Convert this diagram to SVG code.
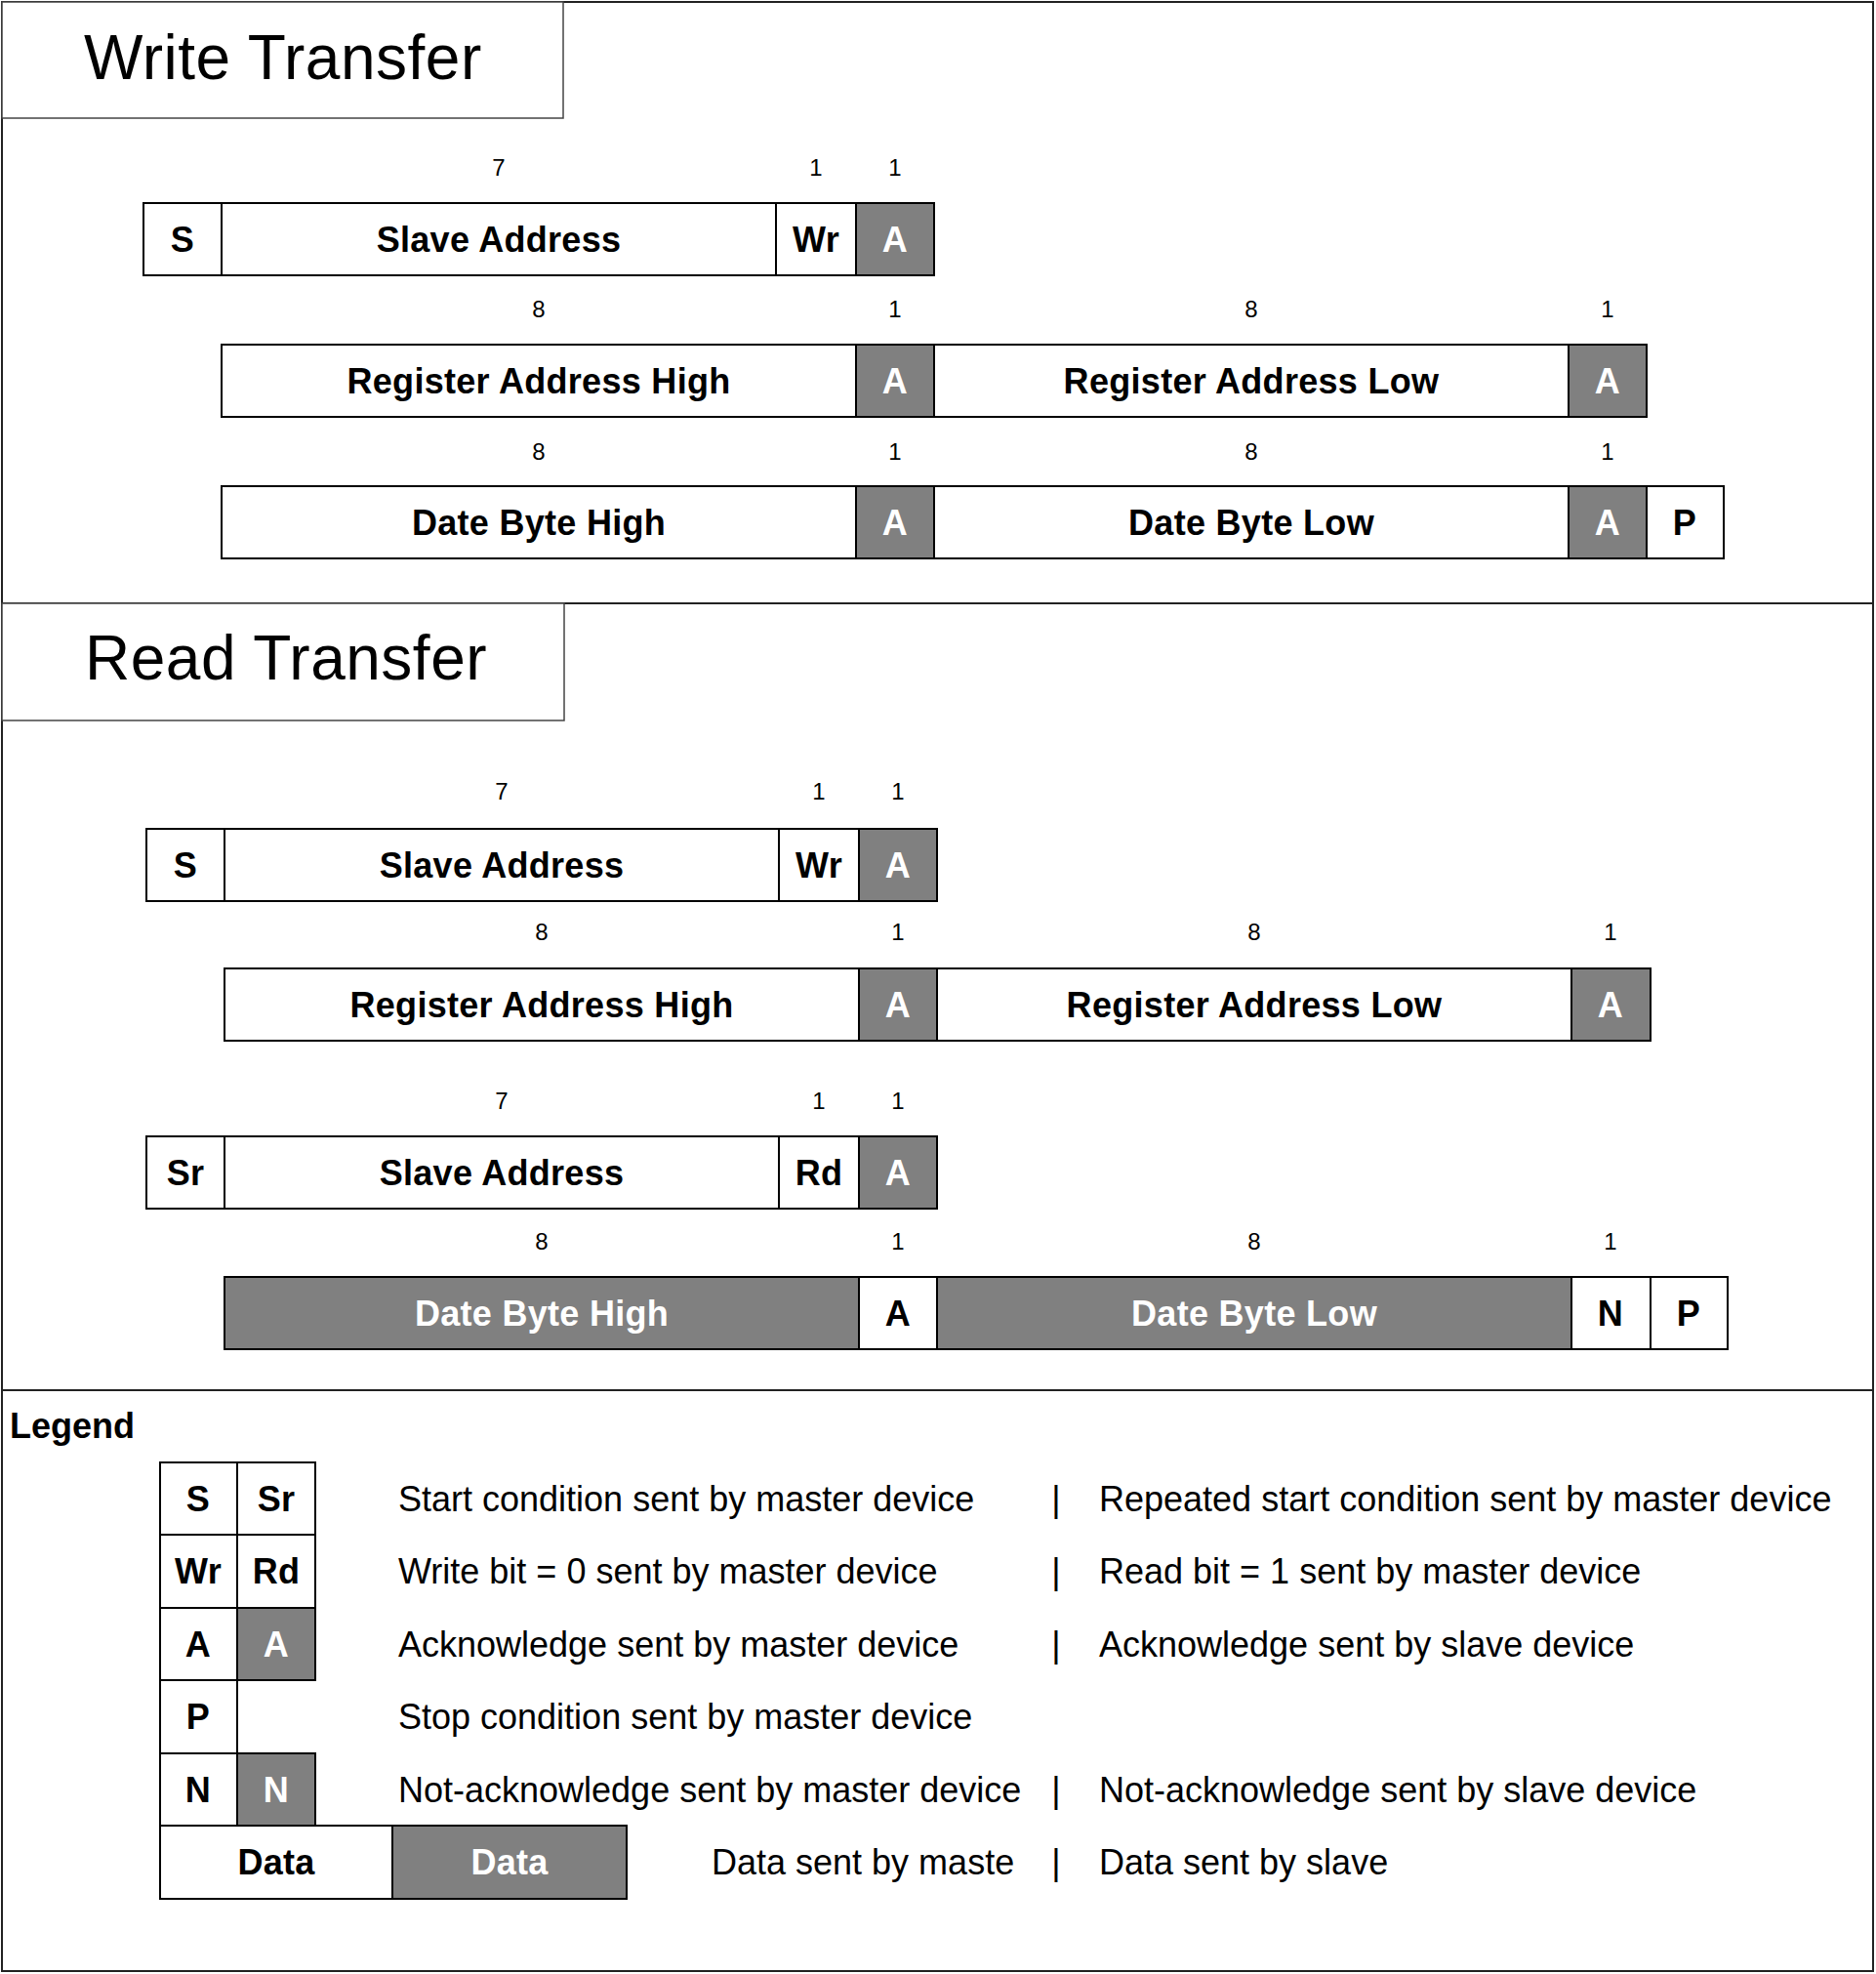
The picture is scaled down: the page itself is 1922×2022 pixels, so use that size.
<svg xmlns="http://www.w3.org/2000/svg" width="1922" height="2022" viewBox="0 0 1922 2022">
<style>
  .frame{fill:none;stroke:#222;stroke-width:2}
  .tbox{fill:#fff;stroke:#444;stroke-width:1.5}
  .c{fill:#fff;stroke:#000;stroke-width:2}
  .g{fill:#808080;stroke:#000;stroke-width:2}
  text{font-family:"Liberation Sans",Arial,Helvetica,sans-serif}
  .t{font-size:64px;fill:#000;letter-spacing:0.5px}
  .l{font-size:36px;font-weight:bold;text-anchor:middle;fill:#000;letter-spacing:0.3px}
  .lw{font-size:36px;font-weight:bold;text-anchor:middle;fill:#fff;letter-spacing:0.3px}
  .n{font-size:24px;text-anchor:middle;fill:#000}
  .lg{font-size:36px;font-weight:bold;fill:#000}
  .d{font-size:36px;fill:#000}
  .p{font-size:36px;fill:#000;text-anchor:middle}
</style>
<rect class="frame" x="2" y="2" width="1917" height="2017"/>
<line class="frame" x1="2" y1="618" x2="1919" y2="618"/>
<line class="frame" x1="2" y1="1424" x2="1919" y2="1424"/>

<g id="write-title"><rect class="tbox" x="2" y="2" width="575" height="119"/><text class="t" x="86" y="81">Write Transfer</text></g>

<g id="write-row1">
  <text class="n" x="511" y="180">7</text><text class="n" x="836" y="180">1</text><text class="n" x="917" y="180">1</text>
  <g id="w1-s"><rect class="c" x="147" y="208" width="80" height="74"/><text class="l" x="187" y="258">S</text></g>
  <g id="w1-addr"><rect class="c" x="227" y="208" width="568" height="74"/><text class="l" x="511" y="258">Slave Address</text></g>
  <g id="w1-wr"><rect class="c" x="795" y="208" width="82" height="74"/><text class="l" x="836" y="258">Wr</text></g>
  <g id="w1-a"><rect class="g" x="877" y="208" width="80" height="74"/><text class="lw" x="917" y="258">A</text></g>
</g>

<g id="write-row2">
  <text class="n" x="552" y="325">8</text><text class="n" x="917" y="325">1</text><text class="n" x="1282" y="325">8</text><text class="n" x="1647" y="325">1</text>
  <g id="w2-rah"><rect class="c" x="227" y="353" width="650" height="74"/><text class="l" x="552" y="403">Register Address High</text></g>
  <g id="w2-a1"><rect class="g" x="877" y="353" width="80" height="74"/><text class="lw" x="917" y="403">A</text></g>
  <g id="w2-ral"><rect class="c" x="957" y="353" width="650" height="74"/><text class="l" x="1282" y="403">Register Address Low</text></g>
  <g id="w2-a2"><rect class="g" x="1607" y="353" width="80" height="74"/><text class="lw" x="1647" y="403">A</text></g>
</g>

<g id="write-row3">
  <text class="n" x="552" y="471">8</text><text class="n" x="917" y="471">1</text><text class="n" x="1282" y="471">8</text><text class="n" x="1647" y="471">1</text>
  <g id="w3-dbh"><rect class="c" x="227" y="498" width="650" height="74"/><text class="l" x="552" y="548">Date Byte High</text></g>
  <g id="w3-a1"><rect class="g" x="877" y="498" width="80" height="74"/><text class="lw" x="917" y="548">A</text></g>
  <g id="w3-dbl"><rect class="c" x="957" y="498" width="650" height="74"/><text class="l" x="1282" y="548">Date Byte Low</text></g>
  <g id="w3-a2"><rect class="g" x="1607" y="498" width="80" height="74"/><text class="lw" x="1647" y="548">A</text></g>
  <g id="w3-p"><rect class="c" x="1687" y="498" width="79" height="74"/><text class="l" x="1726" y="548">P</text></g>
</g>

<g id="read-title"><rect class="tbox" x="2" y="618" width="576" height="120"/><text class="t" x="87" y="696">Read Transfer</text></g>

<g id="read-row1">
  <text class="n" x="514" y="819">7</text><text class="n" x="839" y="819">1</text><text class="n" x="920" y="819">1</text>
  <g id="r1-s"><rect class="c" x="150" y="849" width="80" height="74"/><text class="l" x="190" y="899">S</text></g>
  <g id="r1-addr"><rect class="c" x="230" y="849" width="568" height="74"/><text class="l" x="514" y="899">Slave Address</text></g>
  <g id="r1-wr"><rect class="c" x="798" y="849" width="82" height="74"/><text class="l" x="839" y="899">Wr</text></g>
  <g id="r1-a"><rect class="g" x="880" y="849" width="80" height="74"/><text class="lw" x="920" y="899">A</text></g>
</g>

<g id="read-row2">
  <text class="n" x="555" y="963">8</text><text class="n" x="920" y="963">1</text><text class="n" x="1285" y="963">8</text><text class="n" x="1650" y="963">1</text>
  <g id="r2-rah"><rect class="c" x="230" y="992" width="650" height="74"/><text class="l" x="555" y="1042">Register Address High</text></g>
  <g id="r2-a1"><rect class="g" x="880" y="992" width="80" height="74"/><text class="lw" x="920" y="1042">A</text></g>
  <g id="r2-ral"><rect class="c" x="960" y="992" width="650" height="74"/><text class="l" x="1285" y="1042">Register Address Low</text></g>
  <g id="r2-a2"><rect class="g" x="1610" y="992" width="81" height="74"/><text class="lw" x="1650" y="1042">A</text></g>
</g>

<g id="read-row3">
  <text class="n" x="514" y="1136">7</text><text class="n" x="839" y="1136">1</text><text class="n" x="920" y="1136">1</text>
  <g id="r3-sr"><rect class="c" x="150" y="1164" width="80" height="74"/><text class="l" x="190" y="1214">Sr</text></g>
  <g id="r3-addr"><rect class="c" x="230" y="1164" width="568" height="74"/><text class="l" x="514" y="1214">Slave Address</text></g>
  <g id="r3-rd"><rect class="c" x="798" y="1164" width="82" height="74"/><text class="l" x="839" y="1214">Rd</text></g>
  <g id="r3-a"><rect class="g" x="880" y="1164" width="80" height="74"/><text class="lw" x="920" y="1214">A</text></g>
</g>

<g id="read-row4">
  <text class="n" x="555" y="1280">8</text><text class="n" x="920" y="1280">1</text><text class="n" x="1285" y="1280">8</text><text class="n" x="1650" y="1280">1</text>
  <g id="r4-dbh"><rect class="g" x="230" y="1308" width="650" height="74"/><text class="lw" x="555" y="1358">Date Byte High</text></g>
  <g id="r4-a"><rect class="c" x="880" y="1308" width="80" height="74"/><text class="l" x="920" y="1358">A</text></g>
  <g id="r4-dbl"><rect class="g" x="960" y="1308" width="650" height="74"/><text class="lw" x="1285" y="1358">Date Byte Low</text></g>
  <g id="r4-n"><rect class="c" x="1610" y="1308" width="81" height="74"/><text class="l" x="1650" y="1358">N</text></g>
  <g id="r4-p"><rect class="c" x="1691" y="1308" width="79" height="74"/><text class="l" x="1730" y="1358">P</text></g>
</g>

<g id="legend">
  <text class="lg" x="10" y="1473">Legend</text>
  <g id="lg-s"><rect class="c" x="164" y="1498" width="79" height="74"/><text class="l" x="203" y="1548">S</text></g>
  <g id="lg-sr"><rect class="c" x="243" y="1498" width="80" height="74"/><text class="l" x="283" y="1548">Sr</text></g>
  <g id="lg-wr"><rect class="c" x="164" y="1572" width="79" height="75"/><text class="l" x="203" y="1622">Wr</text></g>
  <g id="lg-rd"><rect class="c" x="243" y="1572" width="80" height="75"/><text class="l" x="283" y="1622">Rd</text></g>
  <g id="lg-a"><rect class="c" x="164" y="1647" width="79" height="74"/><text class="l" x="203" y="1697">A</text></g>
  <g id="lg-as"><rect class="g" x="243" y="1647" width="80" height="74"/><text class="lw" x="283" y="1697">A</text></g>
  <g id="lg-p"><rect class="c" x="164" y="1721" width="79" height="75"/><text class="l" x="203" y="1771">P</text></g>
  <g id="lg-n"><rect class="c" x="164" y="1796" width="79" height="74"/><text class="l" x="203" y="1846">N</text></g>
  <g id="lg-ns"><rect class="g" x="243" y="1796" width="80" height="74"/><text class="lw" x="283" y="1846">N</text></g>
  <g id="lg-data"><rect class="c" x="164" y="1870" width="238" height="75"/><text class="l" x="283" y="1920">Data</text></g>
  <g id="lg-datas"><rect class="g" x="402" y="1870" width="240" height="75"/><text class="lw" x="522" y="1920">Data</text></g>

  <text class="d" x="408" y="1548">Start condition sent by master device</text>
  <text class="p" x="1082" y="1548">|</text>
  <text class="d" x="1126" y="1548">Repeated start condition sent by master device</text>
  <text class="d" x="408" y="1622">Write bit = 0 sent by master device</text>
  <text class="p" x="1082" y="1622">|</text>
  <text class="d" x="1126" y="1622">Read bit = 1 sent by master device</text>
  <text class="d" x="408" y="1697">Acknowledge sent by master device</text>
  <text class="p" x="1082" y="1697">|</text>
  <text class="d" x="1126" y="1697">Acknowledge sent by slave device</text>
  <text class="d" x="408" y="1771">Stop condition sent by master device</text>
  <text class="d" x="408" y="1846">Not-acknowledge sent by master device</text>
  <text class="p" x="1082" y="1846">|</text>
  <text class="d" x="1126" y="1846">Not-acknowledge sent by slave device</text>
  <text class="d" x="729" y="1920">Data sent by maste</text>
  <text class="p" x="1082" y="1920">|</text>
  <text class="d" x="1126" y="1920">Data sent by slave</text>
</g>
<g id="connectors"/>
</svg>
